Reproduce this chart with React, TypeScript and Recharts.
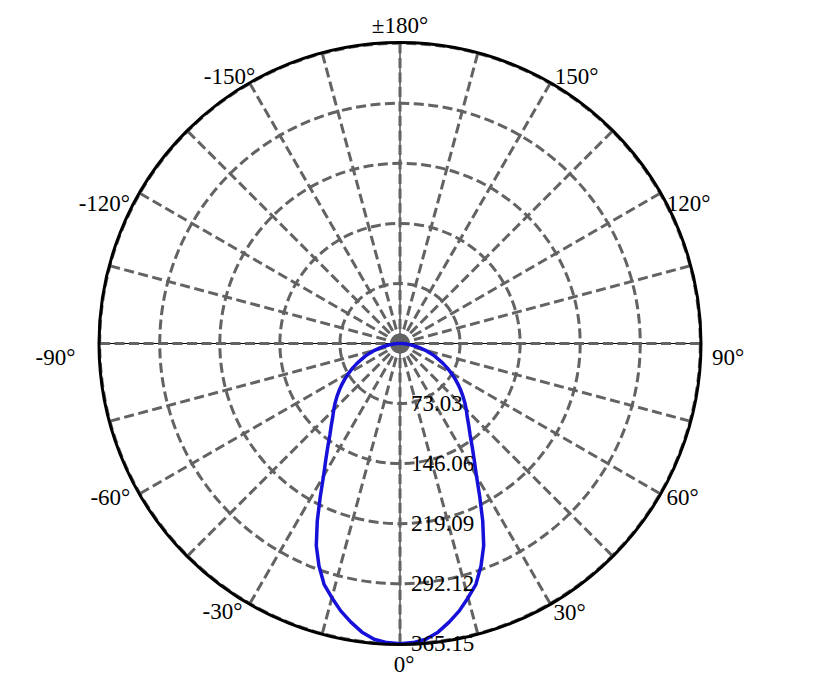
import React from 'react';
import { RadarChart, Radar, PolarGrid, PolarAngleAxis, PolarRadiusAxis } from 'recharts';

// polar angle of each sample (deg), 0° at the bottom, counter-clockwise
const angles = [
  0, 2.5, 5, 7.5, 10, 12.5, 15, 17.5, 20, 22.5, 25, 27.5, 30, 32.5, 35, 37.5, 40, 42.5, 45,
  47.5, 50, 52.5, 55, 57.5, 60, 62.5, 65, 67.5, 70, 72.5, 75, 77.5, 80, 82.5, 85, 87.5, 90,
  180,
  270, 272.5, 275, 277.5, 280, 282.5, 285, 287.5, 290, 292.5, 295, 297.5, 300, 302.5, 305, 307.5,
  310, 312.5, 315, 317.5, 320, 322.5, 325, 327.5, 330, 332.5, 335, 337.5, 340, 342.5, 345, 347.5,
  350, 352.5, 355, 357.5,
];

// luminous intensity, one value per angle above
const intensity = [
  365.15, 364, 361, 354, 344, 333, 320, 307, 288, 266, 238, 210, 186, 168, 153, 140, 130, 121, 114,
  107, 100, 93, 86, 79, 72, 65, 58, 51, 45, 38, 32, 25, 19, 13, 8, 3, 0,
  0,
  0, 3, 8, 13, 19, 25, 32, 38, 45, 51, 58, 65, 72, 79,
  86, 93, 100, 107, 114, 121, 130, 140, 153, 168, 186, 210, 238, 266, 288, 307,
  320, 333, 344, 354, 361, 364,
];

const radiusTicks = [73.03, 146.06, 219.09, 292.12, 365.15];
const angleTicks = [0, 30, 60, 90, 120, 150, 180, 210, 240, 270, 300, 330];
const spokeAngles = [0, 15, 30, 45, 60, 75, 90, 105, 120, 135, 150, 165, 180, 195, 210, 225, 240, 255, 270, 285, 300, 315, 330, 345];
const axisAngles = [0, 90, 180, 270];

const data = angles.map((a, i) => ({ angle: a, value: intensity[i] }));

const FONT = "'Liberation Serif', 'Times New Roman', serif";

// nudges so the labels sit where the original put them
const labelOffset: Record<number, [number, number]> = {
  0: [4, 11.5],
  30: [15, 1],
  60: [15, -1],
  90: [19, 13.5],
  120: [21, 14],
  150: [22, 1],
  180: [0, -9.5],
  210: [-16, 1],
  240: [-28, 14],
  270: [-35.5, 13.5],
  300: [-22, -1],
  330: [-23, 0],
};

const angleLabel = (a: number) => {
  if (a === 180) return '±180°';
  const d = a > 180 ? a - 360 : a;
  return `${d}°`;
};

const AngleTick = (props: any) => {
  const { x, y, payload } = props;
  const a = Number(payload.value);
  const [dx, dy] = labelOffset[a] || [0, 0];
  return (
    <text
      x={x + dx}
      y={y + dy}
      textAnchor="middle"
      dominantBaseline="central"
      fontFamily={FONT}
      fontSize={23}
      fill="#000"
    >
      {angleLabel(a)}
    </text>
  );
};

const RadiusTick = (props: any) => {
  const { x, y, payload } = props;
  return (
    <text x={x + 11} y={y} dominantBaseline="central" fontFamily={FONT} fontSize={23} fill="#000">
      {payload.value}
    </text>
  );
};

const toScreen = (a: number) => a - 90;

export default function App() {
  return (
    <div style={{ position: 'absolute', left: 0, top: 0, width: 821, height: 689, background: '#fff' }}>
      <RadarChart
        width={821}
        height={689}
        data={data}
        cx={400}
        cy={343.5}
        innerRadius={0}
        outerRadius={301}
        startAngle={-90}
        endAngle={270}
        margin={{ top: 0, right: 0, bottom: 0, left: 0 }}
      >
        <PolarGrid
          gridType="circle"
          polarAngles={axisAngles.map(toScreen)}
          polarRadius={[]}
          stroke="#000"
          strokeWidth={1}
        />
        <PolarGrid
          gridType="circle"
          polarAngles={spokeAngles.map(toScreen)}
          stroke="#636363"
          strokeWidth={3}
          strokeDasharray="10 4.5"
        />
        <PolarAngleAxis
          dataKey="angle"
          type="number"
          domain={[0, 360]}
          ticks={angleTicks}
          axisLineType="circle"
          axisLine={{ stroke: '#000', strokeWidth: 3 }}
          tickLine={false}
          tick={AngleTick}
        />
        <PolarRadiusAxis
          angle={-90}
          type="number"
          domain={[0, 366]}
          ticks={radiusTicks}
          axisLine={false}
          tickLine={false}
          tick={RadiusTick}
        />
        <Radar
          dataKey="value"
          stroke="#1610d8"
          strokeWidth={3.5}
          fill="none"
          fillOpacity={0}
          strokeLinejoin="round"
          isAnimationActive={false}
        />
      </RadarChart>
    </div>
  );
}
